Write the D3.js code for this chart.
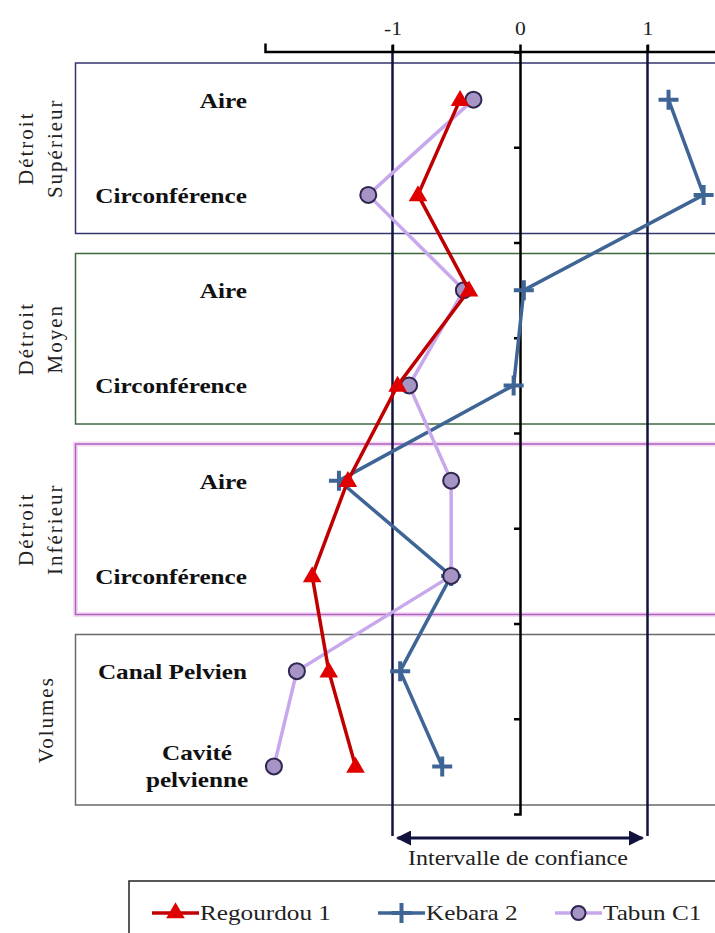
<!DOCTYPE html>
<html>
<head>
<meta charset="utf-8">
<script src="https://cdn.jsdelivr.net/npm/d3@7"></script>
<style>
  html, body { margin: 0; padding: 0; background: #fff; }
  svg { display: block; }
  text { font-family: "Liberation Serif", "Times New Roman", serif; }
</style>
</head>
<body>
<svg id="chart" width="715" height="933"></svg>
<script>
// Pelvic measurements, z-scores relative to the reference sample
const categories = ["Aire", "Circonférence", "Aire", "Circonférence",
                    "Aire", "Circonférence", "Canal Pelvien", "Cavité pelvienne"];
const groupNames = [["Détroit", "Supérieur"], ["Détroit", "Moyen"],
                    ["Détroit", "Inférieur"], ["Volumes"]];
const groupSpans = [[0, 2], [2, 4], [4, 6], [6, 8]];
const regourdou = [-0.47, -0.80, -0.40, -0.96, -1.35, -1.63, -1.50, -1.29];
const kebara    = [1.165, 1.44, 0.03, -0.05, -1.42, -0.54, -0.94, -0.61];
const tabun     = [-0.365, -1.19, -0.44, -0.87, -0.54, -0.54, -1.75, -1.93];
const xTicks = [-1, 0, 1];
const confidence = [-1, 1];
const seriesNames = ["Regourdou 1", "Kebara 2", "Tabun C1"];

const svg = d3.select("#chart");
const STRETCH = 1.2;

// widen horizontal text glyphs
function widen(sel) {
  sel.each(function () {
    const w = this.getComputedTextLength();
    d3.select(this).attr("textLength", w * STRETCH).attr("lengthAdjust", "spacingAndGlyphs");
  });
  return sel;
}

const x = d3.scaleLinear().domain([-2, 2]).range([265, 775]);
const yIdx = d3.scaleLinear().domain([0, categories.length]).range([52, 814]);
const yc = i => yIdx(i + 0.5);

// group frames
const groupColors = ["#34346e", "#3f6a3f", "#b05ec0", "#6a6a6a"];
const frames = svg.append("g");
groupSpans.forEach((s, g) => {
  const top = yIdx(s[0]) + 11, bot = yIdx(s[1]) - 9;
  if (g === 2) {
    frames.append("rect").attr("x", 75.5).attr("y", top).attr("width", 660).attr("height", bot - top)
      .attr("fill", "none").attr("stroke", "#f3dcf3").attr("stroke-width", 5);
  }
  frames.append("rect").attr("x", 75.5).attr("y", top).attr("width", 660).attr("height", bot - top)
    .attr("fill", "none").attr("stroke", groupColors[g]).attr("stroke-width", 1.5);
});

// group titles (rotated)
groupNames.forEach((lines, g) => {
  const mid = (yIdx(groupSpans[g][0]) + 11 + yIdx(groupSpans[g][1]) - 9) / 2;
  const xs = lines.length === 2 ? [33, 62] : [53];
  lines.forEach((t, k) => {
    svg.append("text")
      .attr("transform", `translate(${xs[k]},${mid}) rotate(-90)`)
      .attr("text-anchor", "middle")
      .attr("font-size", 21)
      .attr("letter-spacing", 2)
      .attr("fill", "#222")
      .text(t);
  });
});

// category labels
categories.forEach((c, i) => {
  const words = c === "Cavité pelvienne" ? ["Cavité", "pelvienne"] : [c];
  if (words.length === 1) {
    widen(svg.append("text").attr("x", 247).attr("y", yc(i) + 8)
      .attr("text-anchor", "end").attr("font-size", 21).attr("font-weight", "bold")
      .attr("fill", "#111").text(c));
  } else {
    words.forEach((w, k) => {
      const t = svg.append("text").attr("font-size", 21).attr("font-weight", "bold")
        .attr("fill", "#111").attr("y", yc(i) - 6 + k * 27).text(w);
      widen(t);
      const len = +t.attr("textLength");
      t.attr("x", 197 - len / 2);
    });
  }
});

// confidence interval bounds
svg.append("g").selectAll("line").data(confidence).join("line")
  .attr("x1", d => x(d)).attr("x2", d => x(d))
  .attr("y1", 45).attr("y2", 836)
  .attr("stroke", "#12123e").attr("stroke-width", 2.5);

// top axis
const xAxis = svg.append("g").attr("transform", "translate(0,51.5)")
  .call(d3.axisTop(x).tickValues(xTicks).tickSize(7).tickSizeOuter(8).tickFormat(d3.format("d")));
xAxis.select(".domain").attr("stroke", "#000").attr("stroke-width", 2.5);
xAxis.selectAll(".tick line").attr("stroke", "#000").attr("stroke-width", 2.5);
xAxis.selectAll(".tick text").attr("font-size", 18).attr("fill", "#222")
  .attr("font-family", "Liberation Serif, serif").attr("dy", "-0.35em")
  .text(d => d < 0 ? "-" + Math.abs(d) : d);
widen(xAxis.selectAll(".tick text"));

// vertical axis at zero
const yAxis = svg.append("g").attr("transform", `translate(${x(0)},0)`)
  .call(d3.axisLeft(yIdx).tickValues(d3.range(1, categories.length)).tickSize(6).tickSizeOuter(6).tickFormat(""));
yAxis.select(".domain").attr("stroke", "#000").attr("stroke-width", 2.5);
yAxis.selectAll(".tick line").attr("stroke", "#000").attr("stroke-width", 2.5);

// confidence arrow
const defs = svg.append("defs");
defs.append("marker").attr("id", "ah").attr("viewBox", "0 0 10 10").attr("refX", 9).attr("refY", 5)
  .attr("markerWidth", 5).attr("markerHeight", 5).attr("orient", "auto-start-reverse")
  .append("path").attr("d", "M0,0 L10,5 L0,10 Z").attr("fill", "#12123e");
svg.append("line").attr("x1", x(confidence[0]) + 5).attr("x2", x(confidence[1]) - 5)
  .attr("y1", 838).attr("y2", 838).attr("stroke", "#12123e").attr("stroke-width", 3)
  .attr("marker-start", "url(#ah)").attr("marker-end", "url(#ah)");
widen(svg.append("text").attr("x", 408).attr("y", 865).attr("font-size", 20).attr("fill", "#222")
  .text("Intervalle de confiance"));

// series
const line = d3.line().x(d => x(d[0])).y(d => yc(d[1]));
const plot = svg.append("g");
const tri = d3.symbol().type(d3.symbolTriangle).size(150);

function plus(g, px, py, color) {
  g.append("path").attr("d", `M${px - 10},${py}H${px + 10}M${px},${py - 10}V${py + 10}`)
    .attr("stroke", color).attr("stroke-width", 4).attr("fill", "none");
}

// Kebara 2
plot.append("path").attr("d", line(kebara.map((v, i) => [v, i])))
  .attr("fill", "none").attr("stroke", "#3e6595").attr("stroke-width", 3.5);
kebara.forEach((v, i) => plus(plot, x(v), yc(i), "#3e6595"));

// Tabun C1
plot.append("path").attr("d", line(tabun.map((v, i) => [v, i])))
  .attr("fill", "none").attr("stroke", "#c8a8ec").attr("stroke-width", 3.5);
plot.selectAll("circle.tab").data(tabun).join("circle").attr("class", "tab")
  .attr("cx", d => x(d)).attr("cy", (d, i) => yc(i)).attr("r", 8)
  .attr("fill", "#a594c4").attr("stroke", "#2e2650").attr("stroke-width", 2);

// Regourdou 1
plot.append("path").attr("d", line(regourdou.map((v, i) => [v, i])))
  .attr("fill", "none").attr("stroke", "#c00000").attr("stroke-width", 3.5);
plot.selectAll("path.reg").data(regourdou).join("path").attr("class", "reg")
  .attr("transform", (d, i) => `translate(${x(d)},${yc(i) + 1})`)
  .attr("d", tri).attr("fill", "#e00000");

// legend
const lg = svg.append("g");
lg.append("rect").attr("x", 129).attr("y", 881).attr("width", 620).attr("height", 80)
  .attr("fill", "#fff").attr("stroke", "#222").attr("stroke-width", 1.5);
const ly = 913;
const entries = [
  { x0: 152, color: "#c00000" },
  { x0: 378, color: "#3e6595" },
  { x0: 555, color: "#c8a8ec" }
];
entries.forEach((e, k) => {
  lg.append("line").attr("x1", e.x0).attr("x2", e.x0 + 47).attr("y1", ly).attr("y2", ly)
    .attr("stroke", e.color).attr("stroke-width", 3.5);
  const mx = e.x0 + 23.5;
  if (k === 0) lg.append("path").attr("transform", `translate(${mx},${ly})`).attr("d", tri).attr("fill", "#e00000");
  if (k === 1) plus(lg, mx, ly, "#3e6595");
  if (k === 2) lg.append("circle").attr("cx", mx).attr("cy", ly).attr("r", 7)
    .attr("fill", "#a594c4").attr("stroke", "#2e2650").attr("stroke-width", 2);
  widen(lg.append("text").attr("x", e.x0 + 48).attr("y", ly + 7).attr("font-size", 21)
    .attr("fill", "#222").text(seriesNames[k]));
});
</script>
</body>
</html>
